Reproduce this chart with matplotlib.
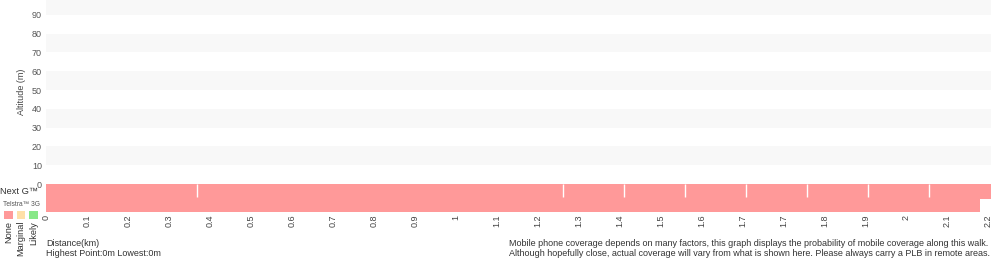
import matplotlib
matplotlib.use("Agg")
import matplotlib.pyplot as plt
from matplotlib.patches import Rectangle

plt.rcParams['font.family'] = ['Liberation Sans', 'DejaVu Sans']

# ---- data ----
x_tick_labels = ["0", "0.1", "0.2", "0.3", "0.4", "0.5", "0.6", "0.7", "0.8", "0.9", "1",
                 "1.1", "1.2", "1.3", "1.4", "1.5", "1.6", "1.7", "1.7", "1.8", "1.9", "2",
                 "2.1", "2.2"]
y_ticks = [0, 10, 20, 30, 40, 50, 60, 70, 80, 90]
altitude_bands = [(10, 20), (30, 40), (50, 60), (70, 80), (90, 100)]
nextg_breaks = [0, 3.69, 12.62, 14.11, 15.60, 17.09, 18.58, 20.07, 21.56, 23.06]
nextg_levels = ["None"] * 9
g3_breaks = [0, 22.80]
g3_levels = ["None"]
legend_labels = ["None", "Marginal", "Likely"]
legend_colors = ["#ff9999", "#ffe0a8", "#88e888"]
level_color = dict(zip(legend_labels, legend_colors))

W, H = 1000, 260
fig = plt.figure(figsize=(W / 100, H / 100), dpi=100)

def fx(px):
    return px / W

def fy(py):
    return 1 - py / H

xmax = 23.06
left, right = 46, 990.7
ax = fig.add_axes([fx(left), fy(184), fx(right - left), 184 / H])
ax.set_xlim(0, xmax)
ax.set_ylim(0, 97.9)
for lo, hi in altitude_bands:
    ax.axhspan(lo, hi, color="#f8f8f8", lw=0)
for s in ax.spines.values():
    s.set_visible(False)
ax.set_xticks([])
ax.set_yticks(y_ticks)
ax.set_yticklabels([str(v) for v in y_ticks], fontsize=6.5, color="#555555")
ax.tick_params(axis="y", length=0, pad=3)
ax.set_ylabel("Altitude (m)", fontsize=6.5, color="#444444", labelpad=4)

# coverage axes
cax = fig.add_axes([fx(left), fy(212), fx(right - left), 28 / H])
cax.set_xlim(0, xmax)
cax.set_ylim(28, 0)
cax.axis("off")
for i, lvl in enumerate(nextg_levels):
    a, b = nextg_breaks[i], nextg_breaks[i + 1]
    cax.add_patch(Rectangle((a, 0), b - a, 15, color=level_color[lvl], lw=0))
for xb in nextg_breaks[1:-1]:
    cax.plot([xb, xb], [0, 13], color="white", lw=1.0, solid_capstyle="butt")
for i, lvl in enumerate(g3_levels):
    a, b = g3_breaks[i], g3_breaks[i + 1]
    cax.add_patch(Rectangle((a, 15), b - a, 13, color=level_color[lvl], lw=0))

# x tick labels (category positions)
for i, lab in enumerate(x_tick_labels):
    cax.text(i, 30.5, lab, rotation=90, ha="center", va="top", fontsize=6.5,
             color="#444444", clip_on=False)

# left labels
fig.text(fx(0), fy(191), "Next G™", fontsize=6.7, color="#333333", ha="left", va="center")
fig.text(fx(3), fy(204), "Telstra™ 3G", fontsize=4.8, color="#555555", ha="left", va="center")
for i, (lab, col) in enumerate(zip(legend_labels, legend_colors)):
    x0 = 4 + i * 12.5
    fig.patches.append(Rectangle((fx(x0), fy(218.5)), fx(8.5), 8 / H, transform=fig.transFigure,
                                 facecolor=col, edgecolor="none"))
    fig.text(fx(x0 + 4.3), fy(221), lab, rotation=90, ha="center", va="top",
             fontsize=6.7, color="#333333")

# bottom texts
fig.text(fx(46), fy(243), "Distance(km)", fontsize=6.5, color="#333333", ha="left", va="center")
fig.text(fx(46), fy(253), "Highest Point:0m Lowest:0m", fontsize=6.5, color="#333333",
         ha="left", va="center")
fig.text(fx(509), fy(243),
         "Mobile phone coverage depends on many factors, this graph displays the probability of mobile coverage along this walk.",
         fontsize=6.5, color="#333333", ha="left", va="center")
fig.text(fx(509), fy(253),
         "Although hopefully close, actual coverage will vary from what is shown here. Please always carry a PLB in remote areas.",
         fontsize=6.5, color="#333333", ha="left", va="center")

fig.savefig("out.png", dpi=100)
